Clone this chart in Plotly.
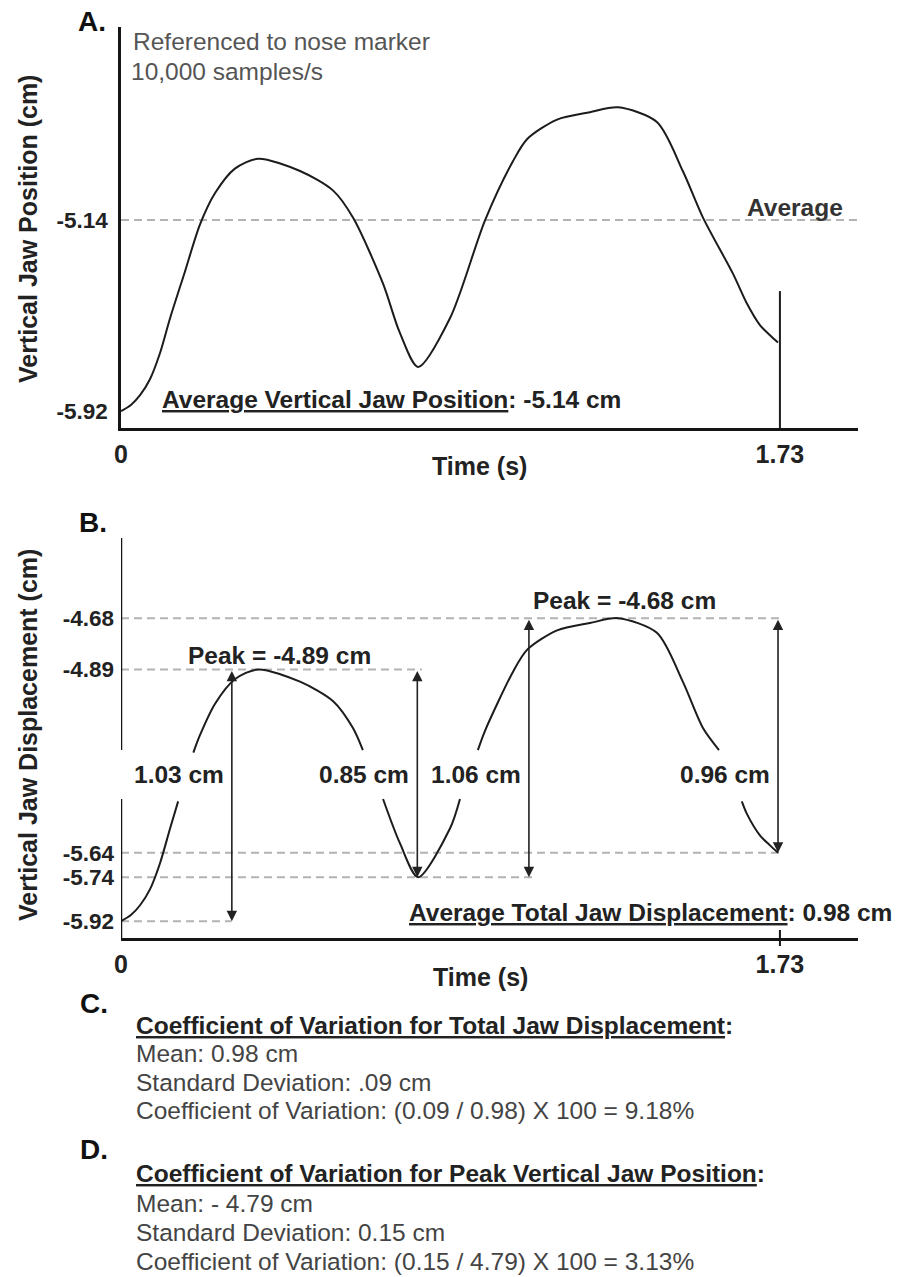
import plotly.graph_objects as go

W, H = 901, 1277
FONT = "Liberation Sans"


def PX(x):
    return x / W


def PY(y):
    return 1 - y / H


# ---------------- data ----------------
# Panel A: vertical jaw position trace (time s, position cm)
T_A = [0.0, 0.026, 0.05, 0.076, 0.102, 0.129, 0.168, 0.207, 0.247, 0.299, 0.36, 0.47, 0.557, 0.609,
       0.688, 0.732, 0.78, 0.864, 0.956, 1.029, 1.066, 1.145, 1.231, 1.305, 1.407,
       1.475, 1.528, 1.607, 1.643, 1.678, 1.704, 1.725]
Y_A = [-5.92, -5.895, -5.855, -5.79, -5.685, -5.54, -5.35, -5.16, -5.03, -4.93, -4.89, -4.94, -5.02, -5.13,
       -5.40, -5.60, -5.74, -5.54, -5.14, -4.90, -4.81, -4.73, -4.70, -4.68, -4.74,
       -4.94, -5.13, -5.36, -5.48, -5.57, -5.61, -5.64]
AVG_POS = -5.14
END_T = 1.73
END_MARK_TOP = -5.43

# Panel B: same trace, broken where the displacement labels sit
T_B = [0.0, 0.026, 0.05, 0.076, 0.102, 0.129, 0.15, None,
       0.19, 0.207, 0.247, 0.299, 0.36, 0.47, 0.557, 0.609, 0.635, None,
       0.688, 0.732, 0.78, 0.864, 0.89, None,
       0.937, 0.956, 1.029, 1.066, 1.145, 1.231, 1.305, 1.407, 1.475, 1.528, 1.57, None,
       1.63, 1.643, 1.678, 1.704, 1.725]
Y_B = [-5.92, -5.895, -5.855, -5.79, -5.685, -5.54, -5.43, None,
       -5.23, -5.16, -5.03, -4.93, -4.89, -4.94, -5.02, -5.13, -5.22, None,
       -5.42, -5.60, -5.74, -5.54, -5.42, None,
       -5.22, -5.14, -4.90, -4.81, -4.73, -4.70, -4.68, -4.74, -4.94, -5.13, -5.22, None,
       -5.43, -5.48, -5.57, -5.61, -5.64]
GAP_LO, GAP_HI = -5.42, -5.22

REF_VALUES = [-4.68, -4.89, -5.64, -5.74, -5.92]
REF_ENDS = [1.73, 0.79, 1.73, 1.08, 0.29]

ARROW_T = [0.291, 0.778, 1.071, 1.725]
ARROW_TOP = [-4.89, -4.89, -4.68, -4.68]
ARROW_BOTTOM = [-5.92, -5.74, -5.74, -5.64]
DISP_LABELS = ["1.03 cm", "0.85 cm", "1.06 cm", "0.96 cm"]

A_TICKS = [-5.92, -5.14]
B_TICKS = [-5.92, -5.74, -5.64, -4.89, -4.68]
X_TICKS = [0, 1.73]
X_TICKTEXT = ["0", "1.73"]

X_RANGE = [0, 1.935]
Y_RANGE = [-5.989, -4.352]

# ---------------- styles ----------------
CURVE = dict(color="#1c1c1c", width=2)
DASH = dict(color="#b3b3b3", width=2, dash="8px,5px")
AX_COLOR = "#151515"
FS = 24.5

fig = go.Figure()

# Panel A
fig.add_trace(go.Scatter(x=[X_RANGE[0], X_RANGE[1]], y=[AVG_POS, AVG_POS], mode="lines",
                         line=DASH, xaxis="x", yaxis="y", hoverinfo="skip"))
fig.add_trace(go.Scatter(x=T_A, y=Y_A, mode="lines", line=dict(shape="spline", smoothing=0.8, **CURVE),
                         xaxis="x", yaxis="y"))
fig.add_trace(go.Scatter(x=[END_T, END_T], y=[Y_RANGE[0], END_MARK_TOP], mode="lines",
                         line=CURVE, xaxis="x", yaxis="y"))

# Panel B
for v, e in zip(REF_VALUES, REF_ENDS):
    fig.add_trace(go.Scatter(x=[0, e], y=[v, v], mode="lines", line=DASH,
                             xaxis="x2", yaxis="y2", hoverinfo="skip"))
fig.add_trace(go.Scatter(x=T_B, y=Y_B, mode="lines", connectgaps=False,
                         line=dict(shape="spline", smoothing=0.8, **CURVE),
                         xaxis="x2", yaxis="y2"))

xtickfont = dict(family=FONT, size=25, color="#222", weight="bold")
ytickfont = dict(family=FONT, size=22.5, color="#222", weight="bold")
common_x = dict(range=X_RANGE, domain=[PX(121), PX(858)], showgrid=False, zeroline=False,
                showline=True, linecolor=AX_COLOR, linewidth=2.5, ticks="",
                tickvals=X_TICKS, ticktext=X_TICKTEXT, tickfont=xtickfont,
                ticklabelstandoff=2, automargin=False, fixedrange=True)
common_y = dict(range=Y_RANGE, showgrid=False, zeroline=False, ticks="", tickfont=ytickfont,
                ticklabelstandoff=6, automargin=False, fixedrange=True)

fig.update_layout(
    width=W, height=H, margin=dict(l=0, r=0, t=0, b=0),
    paper_bgcolor="white", plot_bgcolor="white", showlegend=False,
    font=dict(family=FONT, color="#222"),
    xaxis=dict(anchor="y", **common_x),
    yaxis=dict(anchor="x", domain=[PY(428), PY(27)], showline=True, linecolor=AX_COLOR,
               linewidth=2.5, tickvals=A_TICKS, ticktext=[f"{v:.2f}" for v in A_TICKS], **common_y),
    xaxis2=dict(anchor="y2", **common_x),
    yaxis2=dict(anchor="x2", domain=[PY(938), PY(538)], showline=False,
                tickvals=B_TICKS, ticktext=[f"{v:.2f}" for v in B_TICKS], **common_y),
)

shapes = [
    dict(type="line", xref="x2", yref="y2", x0=0, x1=0, y0=Y_RANGE[0], y1=GAP_LO,
         line=dict(color=AX_COLOR, width=2.5)),
    dict(type="line", xref="x2", yref="y2", x0=0, x1=0, y0=GAP_HI, y1=Y_RANGE[1],
         line=dict(color=AX_COLOR, width=2.5)),
    dict(type="line", xref="x2", yref="y2 domain", x0=END_T, x1=END_T, ysizemode="pixel",
         yanchor=0, y0=-8, y1=8, line=dict(color=AX_COLOR, width=2)),
]
fig.update_layout(shapes=shapes)

ann = []


def txt(text, x, y, size=FS, bold=True, anchor="left", color="#222", angle=0):
    ann.append(dict(text=text, x=PX(x), y=PY(y), xref="paper", yref="paper",
                    xanchor=anchor, yanchor="middle", showarrow=False, textangle=angle,
                    font=dict(family=FONT, size=size, color=color,
                              weight="bold" if bold else "normal")))


# Panel A texts
txt("A.", 92, 22, size=28, anchor="center", color="#111")
txt("Referenced to nose marker", 131, 42, bold=False, color="#555")
txt("10,000 samples/s", 129, 72, bold=False, color="#555")
txt("Average", 745, 207, color="#333")
txt("<u>Average Vertical Jaw Position</u>: -5.14 cm", 160, 400)
txt("Time (s)", 479, 466, size=25, anchor="center")
txt("Vertical Jaw Position (cm)", 28, 229, size=25, anchor="center", angle=-90)

# Panel B texts
txt("B.", 93, 523, size=28, anchor="center", color="#111")
txt("Peak = -4.89 cm", 186, 655)
txt("Peak = -4.68 cm", 531, 600)
txt("<u>Average Total Jaw Displacement</u>: 0.98 cm", 407, 912)
txt("Time (s)", 480, 977, size=25, anchor="center")
txt("Vertical Jaw Displacement (cm)", 28, 735, size=25, anchor="center", angle=-90)

# displacement labels and arrows (data coordinates)
for t, top, bot, lab in zip(ARROW_T, ARROW_TOP, ARROW_BOTTOM, DISP_LABELS):
    ann.append(dict(x=t, y=bot, ax=t, ay=top, xref="x2", yref="y2", axref="x2", ayref="y2",
                    text="", showarrow=True, arrowhead=2, startarrowhead=2, arrowside="end+start",
                    arrowsize=1.3, startarrowsize=1.3, arrowwidth=1.6, arrowcolor="#222",
                    standoff=0, startstandoff=0))
    ann.append(dict(x=t, y=(GAP_LO + GAP_HI) / 2, xref="x2", yref="y2", text=lab,
                    xanchor="right", yanchor="middle", xshift=-6, showarrow=False,
                    font=dict(family=FONT, size=FS, color="#222", weight="bold")))

# C / D texts
txt("C.", 94, 1003, size=28, anchor="center", color="#111")
txt("<u>Coefficient of Variation for Total Jaw Displacement</u>:", 134, 1025)
txt("Mean: 0.98 cm", 134, 1053, bold=False, color="#444")
txt("Standard Deviation: .09 cm", 134, 1082, bold=False, color="#444")
txt("Coefficient of Variation: (0.09 / 0.98) X 100 = 9.18%", 134, 1110, bold=False, color="#444")
txt("D.", 94, 1149, size=28, anchor="center", color="#111")
txt("<u>Coefficient of Variation for Peak Vertical Jaw Position</u>:", 134, 1173)
txt("Mean: - 4.79 cm", 134, 1203, bold=False, color="#444")
txt("Standard Deviation: 0.15 cm", 134, 1232, bold=False, color="#444")
txt("Coefficient of Variation: (0.15 / 4.79) X 100 = 3.13%", 134, 1261, bold=False, color="#444")

fig.update_layout(annotations=ann)

fig.write_html("out.html")
